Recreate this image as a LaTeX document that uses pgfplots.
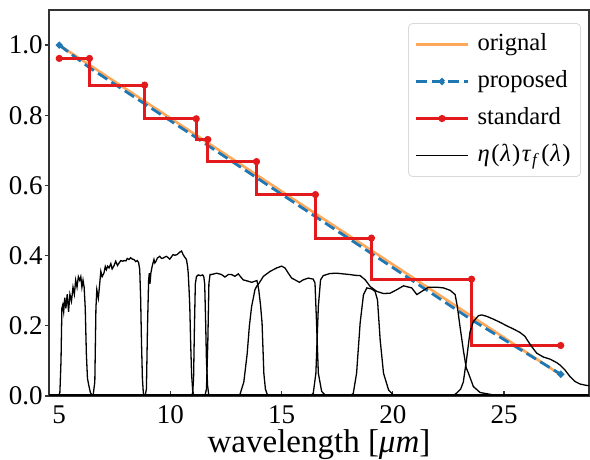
\documentclass[border=0pt]{standalone}
\usepackage{pgfplots}
\pgfplotsset{compat=1.18}
\usepackage{fontspec}
\setmainfont{Liberation Serif}
\definecolor{corig}{RGB}{255,168,90}
\definecolor{cprop}{RGB}{31,119,180}
\definecolor{cstd}{RGB}{227,26,28}
\begin{document}
\begin{tikzpicture}
\begin{axis}[name=ax, scale only axis, width=270pt, height=193pt,
  xmin=4.54, xmax=28.82, ymin=0, ymax=1.1,
  xtick={5,10,15,20,25}, ytick={0,0.2,0.4,0.6,0.8,1.0},
  xtick pos=bottom, ytick pos=left,
  tick align=outside, major tick length=2pt,
  x tick style={yshift=2.6pt, black!80, line width=0.6pt},
  y tick style={black!80, line width=0.6pt},
  axis line style={black!80, line width=0.6pt},
  /pgf/number format/assume math mode=true,
  tick label style={font=\fontsize{13.5}{16}\selectfont},
  yticklabel style={inner xsep=1pt, /pgf/number format/.cd, fixed, fixed zerofill, precision=1},
  xticklabel style={inner ysep=2.5pt},
  xlabel={wavelength [\textit{μm}]},
  xlabel style={at={(axis description cs:0.5,0)}, anchor=base, yshift=-28.5pt, font=\fontsize{16.5}{19}\selectfont},
  legend cell align=left,
  legend style={at={(0.985,0.966)}, anchor=north east, draw=black!15, rounded corners=2pt,
    fill=white, fill opacity=0.8, text opacity=1, font=\fontsize{12.3}{14}\selectfont,
    inner xsep=3pt, inner ysep=2.5pt, row sep=2.5pt,
    nodes={inner xsep=2pt, inner ysep=2pt, text height=9pt, text depth=3pt},
    /tikz/every odd column/.append style={column sep=2pt}},
  legend image code/.code={\draw[mark repeat=2, mark phase=2, #1] plot coordinates {(0pt,0pt) (13pt,0pt) (26pt,0pt)};},
  legend image post style={sharp plot},
]
\addplot[corig, line width=1.3pt] coordinates {(5,1.0) (27.55,0.06)};
\addlegendentry{orignal}
\addplot[cprop, line width=1.4pt, dash pattern=on 5.5pt off 2.5pt, mark=*, mark size=0.9pt, mark options={solid}, mark indices={1,10},
  legend image code/.code={\draw[cprop, line width=1.4pt, dash pattern=on 5.5pt off 2.5pt] (0pt,0pt) -- (26pt,0pt); \fill[cprop] (13pt,0pt) circle (0.9pt);}] coordinates {
(5,1.0) (6.35,0.936) (8.83,0.833) (11.14,0.737) (11.66,0.715) (13.85,0.623) (16.5,0.512) (19.02,0.407) (23.52,0.218) (27.55,0.062)};
\addlegendentry{proposed}
\addplot[cstd, line width=1.5pt, const plot mark right, mark=*, mark size=1pt] coordinates {
(5,0.962) (6.36,0.962) (8.84,0.886) (11.16,0.79) (11.68,0.731) (13.87,0.668) (16.52,0.574) (19.04,0.45) (23.54,0.333) (27.55,0.144)};
\addlegendentry{standard}
% filter curves
\addplot[black, line width=0.65pt] coordinates {
(4.97,0) (5.03,0.01) (5.08,0.1) (5.12,0.25) (5.16,0.26) (5.2,0.24) (5.25,0.28) (5.3,0.25) (5.36,0.29) (5.42,0.24) (5.48,0.29) (5.55,0.27) (5.62,0.31) (5.68,0.29) (5.74,0.33) (5.8,0.31) (5.86,0.34) (5.92,0.33) (5.97,0.34) (6.02,0.31) (6.07,0.33) (6.12,0.31) (6.17,0.25) (6.22,0.12) (6.27,0.05) (6.33,0.03) (6.4,0.01) (6.5,0)};
\addlegendentry{\textit{η}\kern0.8pt(\kern0.4pt\textit{λ}\kern0.6pt)\kern0.8pt\textit{τ}\kern0.3pt\textsubscript{\textit{f}}\kern0.8pt(\kern0.4pt\textit{λ}\kern0.6pt)}
\addplot[black, line width=0.65pt, forget plot] coordinates {
(6.52,0) (6.6,0.04) (6.65,0.25) (6.69,0.303) (6.73,0.29) (6.76,0.279) (6.82,0.32) (6.87,0.355) (6.93,0.34) (7.01,0.35) (7.07,0.369) (7.12,0.36) (7.18,0.37) (7.24,0.365) (7.32,0.377) (7.38,0.362) (7.46,0.371) (7.54,0.384) (7.62,0.372) (7.69,0.379) (7.77,0.386) (7.85,0.384) (7.91,0.386) (8.0,0.385) (8.06,0.392) (8.14,0.389) (8.21,0.394) (8.29,0.39) (8.36,0.389) (8.44,0.383) (8.51,0.386) (8.57,0.38) (8.62,0.36) (8.66,0.28) (8.7,0.15) (8.74,0.05) (8.78,0.01) (8.82,0)};
\addplot[black, line width=0.65pt, forget plot] coordinates {
(8.86,0) (8.92,0.02) (8.97,0.2) (9.02,0.33) (9.05,0.35) (9.08,0.32) (9.12,0.35) (9.18,0.37) (9.26,0.389) (9.3,0.379) (9.36,0.385) (9.41,0.393) (9.52,0.398) (9.6,0.392) (9.67,0.393) (9.75,0.396) (9.82,0.398) (9.9,0.394) (9.97,0.39) (10.05,0.397) (10.12,0.403) (10.2,0.401) (10.3,0.403) (10.42,0.41) (10.5,0.413) (10.57,0.403) (10.65,0.395) (10.72,0.389) (10.77,0.37) (10.8,0.35) (10.84,0.3) (10.87,0.255) (10.91,0.15) (10.95,0.065) (11.0,0.015) (11.05,0)};
\addplot[black, line width=0.65pt, forget plot] coordinates {
(10.95,0) (11.0,0.01) (11.04,0.05) (11.08,0.2) (11.12,0.32) (11.17,0.34) (11.25,0.345) (11.35,0.343) (11.45,0.345) (11.5,0.34) (11.54,0.32) (11.58,0.22) (11.62,0.1) (11.67,0.03) (11.72,0.005) (11.8,0)};
\addplot[black, line width=0.65pt, forget plot] coordinates {
(11.55,0) (11.62,0.02) (11.68,0.15) (11.73,0.32) (11.78,0.346) (11.9,0.347) (12.08,0.35) (12.3,0.346) (12.45,0.339) (12.6,0.346) (12.75,0.346) (12.9,0.341) (13.05,0.348) (13.27,0.331) (13.5,0.327) (13.65,0.324) (13.8,0.327) (13.89,0.329) (13.97,0.303) (14.05,0.26) (14.12,0.208) (14.2,0.065) (14.27,0.02) (14.35,0.005) (14.45,0)};
\addplot[black, line width=0.65pt, forget plot] coordinates {
(12.95,0) (13.13,0.005) (13.3,0.04) (13.45,0.12) (13.55,0.2) (13.65,0.255) (13.73,0.28) (13.8,0.303) (13.88,0.313) (13.95,0.318) (14.18,0.341) (14.48,0.355) (14.78,0.365) (15.0,0.37) (15.15,0.365) (15.3,0.35) (15.45,0.336) (15.6,0.331) (15.8,0.324) (15.97,0.331) (16.2,0.336) (16.42,0.333) (16.5,0.322) (16.57,0.208) (16.65,0.065) (16.8,0.013) (16.95,0.003) (17.1,0)};
\addplot[black, line width=0.65pt, forget plot] coordinates {
(16.25,0) (16.42,0.007) (16.54,0.065) (16.65,0.255) (16.75,0.331) (16.87,0.343) (17.17,0.349) (17.47,0.35) (17.77,0.348) (18.07,0.346) (18.3,0.344) (18.53,0.343) (18.76,0.331) (18.98,0.312) (19.28,0.298) (19.58,0.292) (19.88,0.293) (20.18,0.303) (20.48,0.314) (20.85,0.308) (21.08,0.289) (21.3,0.298) (21.6,0.31) (21.98,0.31) (22.28,0.308) (22.58,0.301) (22.8,0.289) (22.9,0.255) (23.02,0.198) (23.17,0.131) (23.3,0.08) (23.4,0.065) (23.62,0.027) (23.92,0.01) (24.52,0.003) (24.97,0)};
\addplot[black, line width=0.65pt, forget plot] coordinates {
(18.05,0) (18.22,0.007) (18.37,0.065) (18.53,0.208) (18.68,0.289) (18.83,0.308) (19.05,0.305) (19.2,0.298) (19.31,0.274) (19.43,0.16) (19.58,0.065) (19.81,0.017) (20.03,0.003) (20.2,0)};
\addplot[black, line width=0.65pt, forget plot] coordinates {
(22.7,0) (22.9,0.01) (23.05,0.02) (23.17,0.04) (23.32,0.107) (23.47,0.183) (23.62,0.212) (23.85,0.229) (24.0,0.231) (24.22,0.227) (24.52,0.219) (24.82,0.21) (25.12,0.2) (25.42,0.191) (25.72,0.181) (25.94,0.17) (26.09,0.155) (26.24,0.141) (26.47,0.122) (26.77,0.111) (27.07,0.105) (27.37,0.095) (27.52,0.088) (27.74,0.074) (27.97,0.055) (28.2,0.041) (28.42,0.034) (28.72,0.03) (28.9,0.03)};
\addplot[black, line width=1.6pt, forget plot] coordinates {(4.54,0) (28.82,0)};
\end{axis}
\pgfresetboundingbox
\path[use as bounding box] ([xshift=-24.5pt,yshift=-32pt]ax.south west) rectangle ([xshift=0.5pt,yshift=5pt]ax.north east);
\end{tikzpicture}
\end{document}
